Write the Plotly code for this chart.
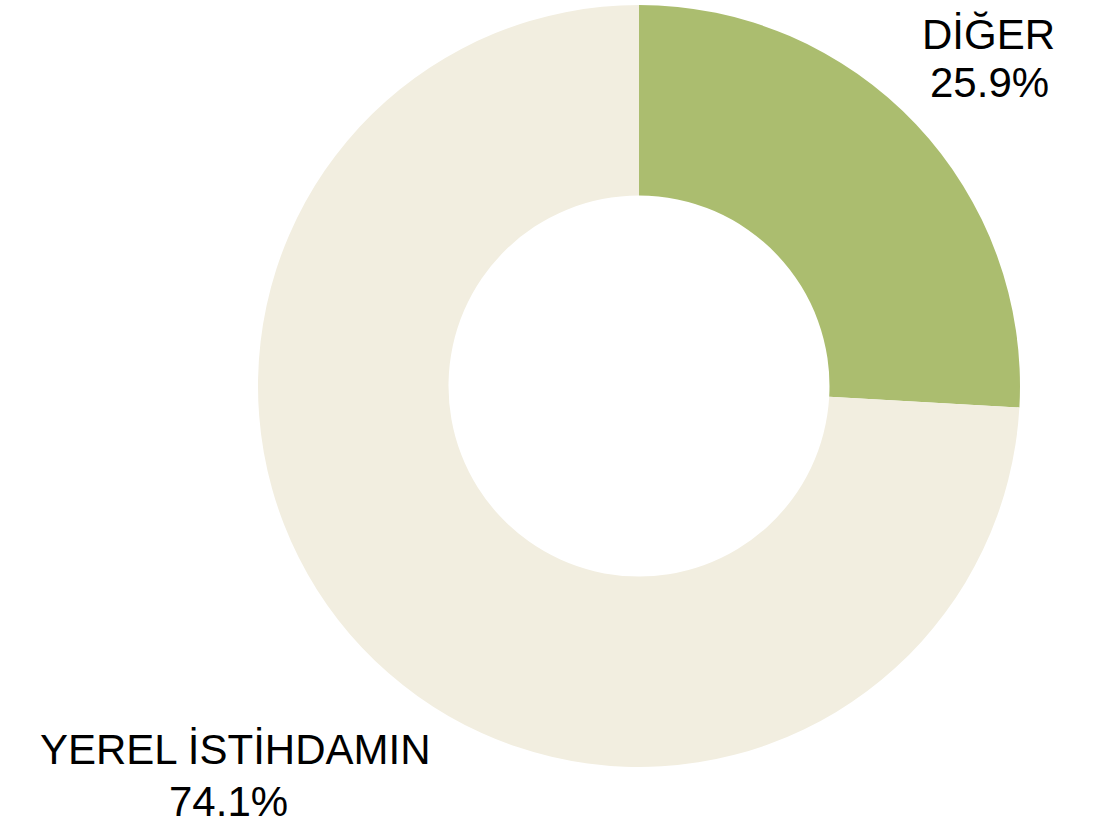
import plotly.graph_objects as go

labels = ["DİĞER", "YEREL İSTİHDAMIN"]
values = [25.9, 74.1]
colors = ["#ABBD6F", "#F2EEE0"]

W, H = 1107, 827
fig = go.Figure(go.Pie(
    labels=labels, values=values, sort=False, direction="clockwise", rotation=0,
    hole=0.5, textinfo="none", hoverinfo="label+percent",
    marker=dict(colors=colors, line=dict(width=0)),
    domain=dict(x=[258 / W, 1020 / W], y=[60 / H, 822 / H]),
    showlegend=False,
))

# (x centre, y of name line, x centre pct, y of pct line) in pixels
label_pos = [(988, 34, 989, 83), (235, 749, 228, 801)]
font = dict(family="Liberation Sans, Arial, sans-serif", size=42, color="#000000")
for lab, val, (nx, ny, px, py) in zip(labels, values, label_pos):
    fig.add_annotation(x=nx / W, y=1 - ny / H, xref="paper", yref="paper",
                       text=lab, showarrow=False, xanchor="center", yanchor="middle", font=font)
    fig.add_annotation(x=px / W, y=1 - py / H, xref="paper", yref="paper",
                       text=f"{val:.1f}%", showarrow=False, xanchor="center", yanchor="middle", font=font)

fig.update_layout(
    width=W, height=H, margin=dict(l=0, r=0, t=0, b=0),
    paper_bgcolor="white", plot_bgcolor="white",
)
fig.write_html("out.html", config={"displayModeBar": False},
               post_script="document.body.style.margin='0';document.body.style.overflow='hidden';")
